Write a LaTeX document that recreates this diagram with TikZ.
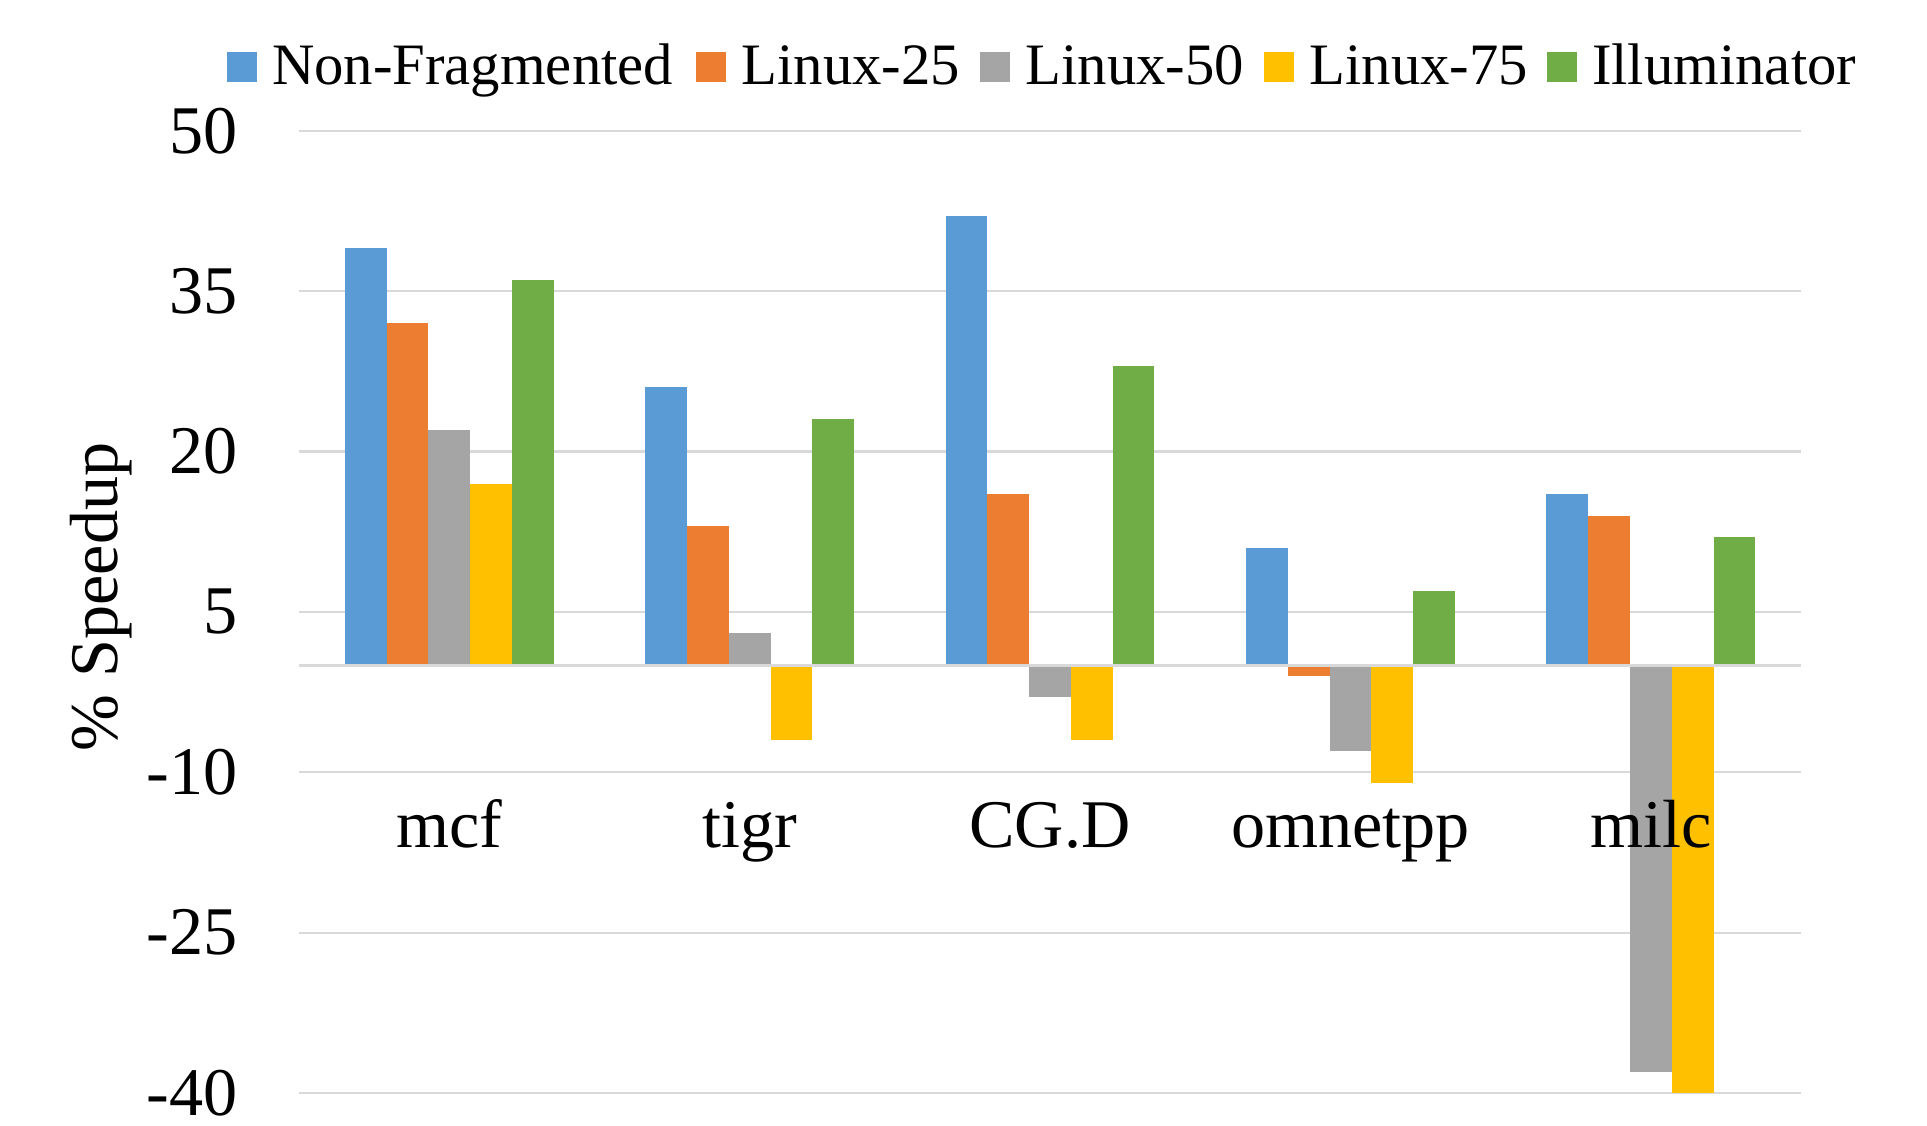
\documentclass[tikz,border=0pt]{standalone}
\usepackage{fontspec}
\setmainfont{Liberation Serif}
\usetikzlibrary{positioning}
\definecolor{nfBlue}{HTML}{5B9BD5}
\definecolor{lxOrange}{HTML}{ED7D31}
\definecolor{lxGray}{HTML}{A5A5A5}
\definecolor{lxYellow}{HTML}{FFC000}
\definecolor{ilGreen}{HTML}{70AD47}
\definecolor{gridGray}{HTML}{D9D9D9}

\begin{document}
\begin{tikzpicture}[
  x=3.004cm, y=0.1069cm,
  tick/.style={font=\fontsize{19.4}{22}\selectfont, anchor=east, inner sep=0pt},
  cat/.style={font=\fontsize{19.4}{22}\selectfont, anchor=base, inner sep=0pt},
  key/.style={minimum size=0.3cm, inner sep=0pt, anchor=west},
  lbl/.style={font=\fontsize{16.7}{19}\selectfont, inner sep=0pt, text height=13.4pt, text depth=3.2pt},
]
  \useasboundingbox (-0.9953,-43.003) rectangle (5.4194,62.236);
  % grid
  \foreach \v in {-40,-25,-10,5,20,35,50}
    \draw[gridGray, line width=0.6pt] (0,\v) -- (5,\v);
  % bars
  \foreach \i/\vA/\vB/\vC/\vD/\vE in {0/39/32/22/17/36, 1/26/13/3/-7/23,
      2/42/16/-3/-7/28, 3/11/-1/-8/-11/7, 4/16/14/-38/-40/12} {
    \fill[nfBlue]   (\i+0.1523,0) rectangle ++(0.1391,\vA);
    \fill[lxOrange] (\i+0.2914,0) rectangle ++(0.1391,\vB);
    \fill[lxGray]   (\i+0.4305,0) rectangle ++(0.1391,\vC);
    \fill[lxYellow] (\i+0.5696,0) rectangle ++(0.1391,\vD);
    \fill[ilGreen]  (\i+0.7087,0) rectangle ++(0.1391,\vE);
  }
  \draw[gridGray, line width=0.8pt] (0,0) -- (5,0);
  % axis labels
  \foreach \v [count=\k] in {-40,-25,-10,5,20,35,50}
    \node[tick] (tick\k) at (-0.2031,\v) {\v};
  \node[cat] (mcf) at (0.5,-17) {mcf};
  \node[cat] (tigr) at (1.5,-17) {tigr};
  \node[cat] (cgd) at (2.5,-17) {CG.D};
  \node[cat] (omnetpp) at (3.5,-17) {omnetpp};
  \node[cat] (milc) at (4.5,-17) {milc};
  \node[cat, rotate=90] (ytitle) at (-0.6025,6.39) {\% Speedup};
  % legend
  \node[key, fill=nfBlue] (keyNF) at (-0.2430,56) {};
  \node[lbl, right=0.14cm of keyNF] (lblNF) {Non-Fragmented};
  \node[key, fill=lxOrange] (keyL25) at (1.3203,56) {};
  \node[lbl, right=0.14cm of keyL25] (lblL25) {Linux-25};
  \node[key, fill=lxGray] (keyL50) at (2.2653,56) {};
  \node[lbl, right=0.14cm of keyL50] (lblL50) {Linux-50};
  \node[key, fill=lxYellow] (keyL75) at (3.2104,56) {};
  \node[lbl, right=0.14cm of keyL75] (lblL75) {Linux-75};
  \node[key, fill=ilGreen] (keyIl) at (4.1511,56) {};
  \node[lbl, right=0.14cm of keyIl] (lblIl) {Illuminator};
\end{tikzpicture}
\end{document}
